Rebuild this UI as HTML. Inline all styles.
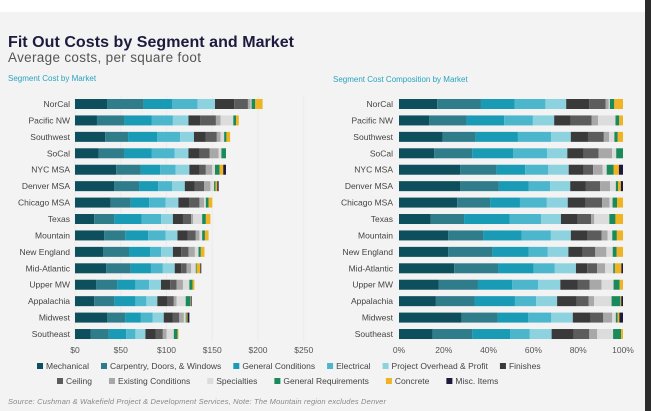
<!DOCTYPE html>
<html><head><meta charset="utf-8"><style>
body{margin:0;width:651px;height:411px;overflow:hidden;background:#fff;font-family:"Liberation Sans",sans-serif}
#panel{position:absolute;left:0;top:12px;width:645px;height:399px;background:#f3f3f3}
#edge{position:absolute;left:645px;top:0;width:6px;height:411px;background:#2b2b2b}
</style></head><body>
<div id="panel"></div>
<div id="edge"></div>
<svg id="svg" width="651" height="411" style="position:absolute;left:0;top:0">
<text x="8" y="47" font-size="16" font-weight="bold" fill="#1d1b3d" textLength="286">Fit Out Costs by Segment and Market</text>
<text x="8" y="62" font-size="13.5" fill="#555" textLength="193">Average costs, per square foot</text>
<text x="8" y="81" font-size="8" fill="#2aa3bf">Segment Cost by Market</text>
<text x="333" y="82" font-size="8" fill="#2aa3bf">Segment Cost Composition by Market</text>
<text x="8" y="404" font-size="7.5" font-style="italic" fill="#888" textLength="378">Source: Cushman &amp; Wakefield Project &amp; Development Services, Note: The Mountain region excludes Denver</text>
<g id="g"></g>
</svg>
<script>
const markets=["NorCal","Pacific NW","Southwest","SoCal","NYC MSA","Denver MSA","Chicago MSA","Texas","Mountain","New England","Mid-Atlantic","Upper MW","Appalachia","Midwest","Southeast"];
const segments=["Mechanical","Carpentry, Doors, & Windows","General Conditions","Electrical","Project Overhead & Profit","Finishes","Ceiling","Existing Conditions","Specialties","General Requirements","Concrete","Misc. Items"];
const colors=["#0d4f5c","#2f7c8a","#1a9bb5","#4bb6cc","#8dd3df","#3a3a3a","#5c5c5c","#a8a8a8","#dcdcdc","#1a8a5a","#f0b323","#1d1b3d"];
const mechanical=[35,24,33,26,45,43,39,21,32,31,34,23,21,35,17];
const carpentry=[40,30,25,28,27,27,22,22,23,28,27,23,22,20,20];
const generalConditions=[31,30,32,30,21,21,20,30,25,23,22,20,23,17,19];
const electrical=[28,23,25,25,17,15,18,21,19,12,13,15,12,13,10];
const overhead=[19,17,15,15,15,14,14,13,13,13,13,13,12,12,11];
const finishes=[21,13,13,12,11,11,12,11,11,9,7,10,11,10,11];
const ceiling=[15,17,12,11,7,10,11,9,9,8,6,7,7,7,8];
const existing=[3,5,4,10,7,7,5,2,4,7,5,7,3,5,4];
const specialties=[1,14,4,3,3,4,2,10,3,4,5,7,10,2,8];
const generalReq=[4,3,2.5,5,5,1.5,3,4,3,2.5,1,3.5,5,1,4];
const concrete=[8,3,4,0,4,2,4,5,4,4,4,2,0.5,1,1];
const misc=[0,0,0,0,3,1.5,0,0,0,0,1,0,1,2,0];
const series=[mechanical,carpentry,generalConditions,electrical,overhead,finishes,ceiling,existing,specialties,generalReq,concrete,misc];
const dollarTicks=[0,50,100,150,200,250];
const pctTicks=[0,20,40,60,80,100];
const NS="http://www.w3.org/2000/svg";const g=document.getElementById('g');
function mk(t,a,p){const e=document.createElementNS(NS,t);for(const k in a)e.setAttribute(k,a[k]);(p||g).appendChild(e);return e;}
const y0=104,step=16.43,bh=10;
const yS=i=>y0+i*step;
const xL=v=>75+v*0.915;
const xR=v=>399+v*2.24;
dollarTicks.forEach(t=>{const l=mk('line',{x1:xL(t),x2:xL(t),y1:95,y2:342,stroke:'#ebebeb','stroke-width':1});

const tx=mk('text',{x:xL(t),y:353,'font-size':8.5,fill:'#555','text-anchor':'middle'});tx.textContent='$'+t;
});
pctTicks.forEach(t=>{const tx=mk('text',{x:xR(t),y:353,'font-size':8.5,fill:'#555','text-anchor':'middle'});tx.textContent=t+'%';
});
markets.forEach((m,i)=>{
 const y=yS(i);
 [[70,'left'],[393,'right']].forEach(([x,s])=>{const t=mk('text',{x:x,y:y+3,'font-size':8.5,fill:'#444','text-anchor':'end'});t.textContent=m;
 });
 let tot=0;series.forEach(s=>tot+=s[i]);
 let c=0,cp=0;
 series.forEach((s,j)=>{const v=s[i];if(v<=0)return;
  const r=mk('rect',{x:xL(c),y:y-bh/2,width:xL(c+v)-xL(c),height:bh,fill:colors[j]});
  
  const p=v/tot*100;
  const r2=mk('rect',{x:xR(cp),y:y-bh/2,width:xR(cp+p)-xR(cp),height:bh,fill:colors[j]});
  
  c+=v;cp+=p;});
});
const rows=[[0,6,37,369],[6,12,57,384]];
const ctx=document.createElement('canvas').getContext('2d');ctx.font='8.5px "Liberation Sans"';
rows.forEach(([a,b,x,y])=>{let cx=x;for(let j=a;j<b;j++){
 const sq=mk('rect',{x:cx,y:y-6,width:6,height:6,fill:colors[j]});
 
 const t=mk('text',{x:cx+9,y:y,'font-size':8.5,fill:'#444'});t.textContent=segments[j];
 
 cx+=9+ctx.measureText(segments[j]).width+(j<6?12:17);}});
</script>
</body></html>
